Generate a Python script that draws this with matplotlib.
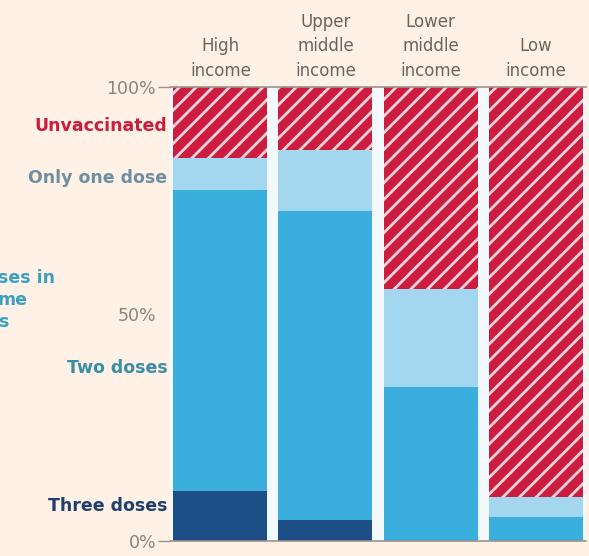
import matplotlib
matplotlib.use("Agg")
import matplotlib.pyplot as plt
import numpy as np

# share of population (%) by vaccination status, per income group
groups = ["High\nincome", "Upper\nmiddle\nincome", "Lower\nmiddle\nincome", "Low\nincome"]
three_doses = [11.0, 4.6, 0.0, 0.0]
two_doses = [66.3, 68.1, 33.9, 5.3]
one_dose = [7.1, 13.4, 21.6, 4.4]
unvaccinated = [15.6, 13.9, 44.5, 90.3]

bg = "#fff1e5"
c_three = "#1d4f86"
c_two = "#3aaedc"
c_one = "#a3d7ef"
c_unvax = "#cc1c3f"

plt.rcParams["hatch.linewidth"] = 2.0
plt.rcParams["font.family"] = ["DejaVu Sans"]

fig = plt.figure(figsize=(5.89, 5.56), dpi=100, facecolor=bg)
ax = fig.add_axes([170 / 589, 1 - 541 / 556, 416 / 589, 454 / 556])
ax.set_facecolor("#f3f9fb")

x = np.arange(len(groups))
w = 0.895
bottom = np.zeros(len(groups))
for vals, col in [(three_doses, c_three), (two_doses, c_two), (one_dose, c_one)]:
    ax.bar(x, vals, w, bottom=bottom, color=col, linewidth=0)
    bottom += np.array(vals)
ax.bar(x, unvaccinated, w, bottom=bottom, color=c_unvax, edgecolor="#ffd3da",
       hatch="//", linewidth=0)

ax.set_xlim(-0.48, 3.48)
ax.set_ylim(0, 100)
for s in ax.spines.values():
    s.set_visible(False)
ax.axhline(0, color="#9a928b", lw=1.2, clip_on=False)
ax.axhline(100, color="#9a928b", lw=1.2, clip_on=False)

ax.set_xticks([])
ax.set_yticks([0, 50, 100])
ax.set_yticklabels(["0%", "50%", "100%"])
ax.tick_params(axis="y", length=9, width=1, color="#9a928b", labelcolor="#8c847d",
               labelsize=12.5, pad=1)
ax.yaxis.get_ticklines()[2].set_visible(False)
ax.yaxis.get_ticklines()[3].set_visible(False)

# column headers
for xi, g in zip(x, groups):
    ax.text(xi, 101.6, g, ha="center", va="bottom", fontsize=12, color="#6b6560",
            linespacing=1.45)

# series labels on the left
labels = [("Unvaccinated", 91.5, c_unvax),
          ("Only one dose", 80.0, "#6d8fa0"),
          ("Two doses", 38.0, "#3b8ea8"),
          ("Three doses", 7.7, "#1f3f6c")]
for txt, yv, col in labels:
    ax.text(-0.505, yv, txt, ha="right", va="center", fontsize=12.5, color=col,
            fontweight="bold")

# partly visible note at the left edge (cut off in the original too)
fig.text(-0.004, 1 - 300 / 556, "ses in\nme\ns", ha="left", va="center",
         fontsize=12.5, color="#3b9fc0", fontweight="bold", linespacing=1.3)

fig.savefig("out.png", dpi=100, facecolor=bg)
